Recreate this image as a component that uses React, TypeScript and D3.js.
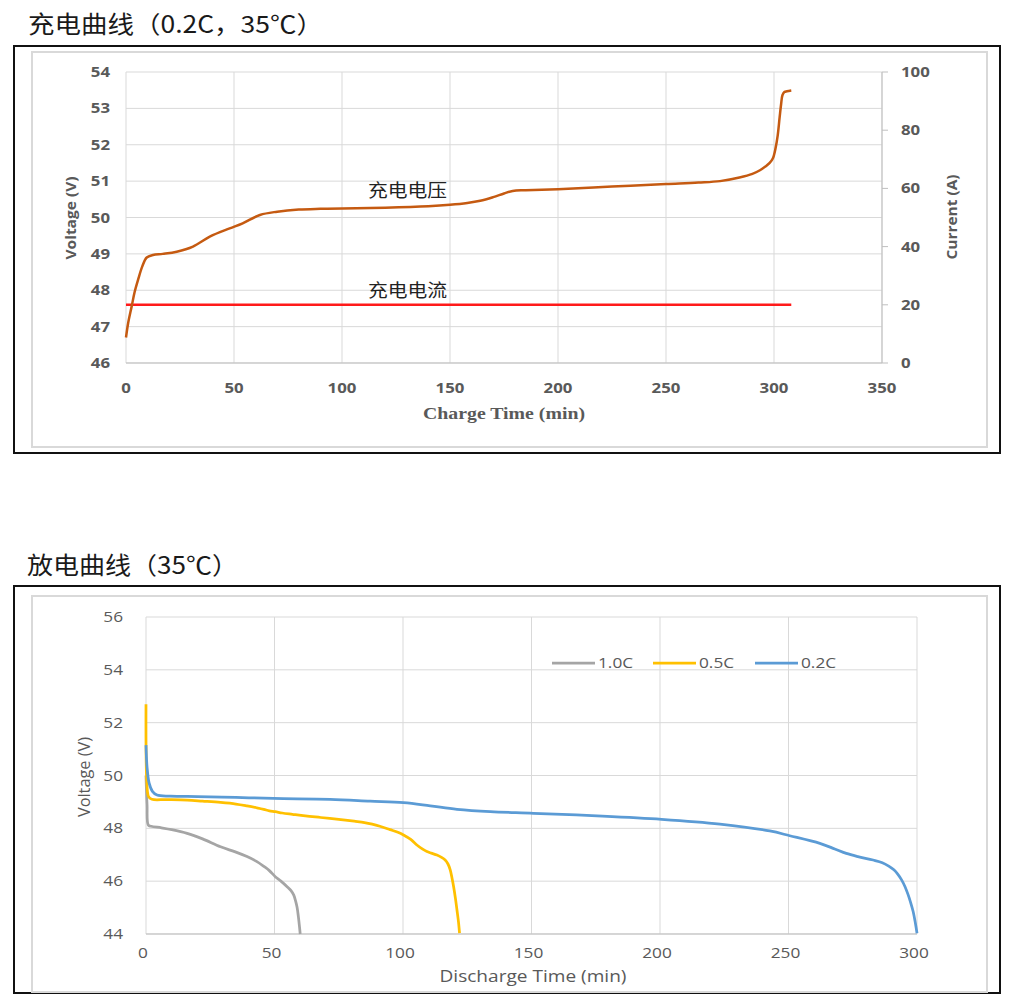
import React from 'react';
import * as d3 from 'd3';

// ---------- Charge chart data ----------
const chargeTime = [0, 1, 2.6, 4, 5.6, 7.5, 9.6, 12.5, 17, 23.5, 31, 39, 48, 54, 62, 70, 80, 90, 100, 120, 140, 150, 158, 164, 170, 175, 179, 185, 200, 225, 250, 265, 275, 284, 290, 293.5, 296, 298, 299.5, 300.7, 301.7, 302.6, 303.3, 303.9, 304.8, 306, 308];
const chargeVoltage = [46.7, 47.1, 47.55, 47.95, 48.29, 48.65, 48.9, 48.97, 49.0, 49.06, 49.2, 49.48, 49.7, 49.84, 50.07, 50.16, 50.22, 50.24, 50.25, 50.27, 50.31, 50.35, 50.4, 50.46, 50.56, 50.66, 50.73, 50.75, 50.78, 50.85, 50.92, 50.96, 51.0, 51.1, 51.2, 51.3, 51.4, 51.5, 51.63, 51.9, 52.25, 52.75, 53.12, 53.36, 53.45, 53.47, 53.49];
const currentTime = [0, 308];
const currentValue = [20, 20];
const chargeXTicks = [0, 50, 100, 150, 200, 250, 300, 350];
const chargeVTicks = [46, 47, 48, 49, 50, 51, 52, 53, 54];
const chargeATicks = [0, 20, 40, 60, 80, 100];

// ---------- Discharge chart data ----------
const t10 = [0, 0.4, 0.9, 2, 6, 10, 16, 22, 29, 35, 39.3, 43, 46, 48, 50.3, 52.5, 55, 56.5, 57.5, 58.2, 58.8, 59.3, 59.7, 60];
const v10 = [50.0, 48.9, 48.12, 48.08, 48.02, 47.95, 47.81, 47.6, 47.3, 47.1, 46.93, 46.75, 46.55, 46.4, 46.17, 46.0, 45.78, 45.63, 45.47, 45.25, 45.0, 44.65, 44.3, 44.0];
const t05 = [0, 0.3, 1, 2.3, 8, 16, 22, 29, 35, 39.3, 43, 45.8, 48, 50.3, 53, 57, 62, 68, 75, 81, 85, 88, 91, 95, 98, 100.2, 103, 105.4, 107.5, 109.3, 111, 113.2, 115, 116.4, 117.5, 118.4, 119.1, 119.7, 120.4, 121, 121.6, 122];
const v05 = [52.7, 49.8, 49.2, 49.1, 49.09, 49.07, 49.03, 48.98, 48.92, 48.85, 48.78, 48.72, 48.66, 48.63, 48.58, 48.53, 48.47, 48.41, 48.34, 48.27, 48.22, 48.16, 48.08, 47.95, 47.85, 47.75, 47.58, 47.37, 47.22, 47.12, 47.06, 46.99, 46.9, 46.8, 46.65, 46.42, 46.1, 45.79, 45.35, 44.91, 44.45, 44.03];
const t02 = [0, 0.4, 1.2, 2.5, 4.3, 9.5, 20, 35, 49.6, 71.6, 87.2, 100.2, 110.6, 121, 134, 150.8, 175.5, 200.6, 223.3, 242.7, 250.5, 262.2, 268, 272.5, 277, 282.9, 286.5, 289, 291, 292.5, 294, 295.3, 296.5, 297.5, 298.5, 299.3, 300];
const v02 = [51.15, 50.33, 49.72, 49.4, 49.26, 49.22, 49.2, 49.17, 49.13, 49.1, 49.03, 48.97, 48.85, 48.72, 48.63, 48.57, 48.47, 48.34, 48.16, 47.9, 47.72, 47.43, 47.22, 47.05, 46.93, 46.8, 46.7, 46.57, 46.43, 46.27, 46.05, 45.8, 45.5, 45.2, 44.85, 44.45, 44.03];
const seriesNames = ['1.0C', '0.5C', '0.2C'];
const seriesColors = ['#a5a5a5', '#ffc000', '#5b9bd5'];
const dischargeXTicks = [0, 50, 100, 150, 200, 250, 300];
const dischargeVTicks = [44, 46, 48, 50, 52, 54, 56];

const SANS = "'Open Sans', 'Noto Sans', sans-serif";
const CJK = "'Noto Sans CJK SC', sans-serif";

type TProps = { x: number; y: number; sx?: number; anchor?: string; children: React.ReactNode; [k: string]: any };
const SText = ({ x, y, sx = 1.15, anchor = 'middle', children, ...rest }: TProps) => (
  <text transform={`translate(${x},${y}) scale(${sx},1)`} textAnchor={anchor} {...rest}>{children}</text>
);

export default function App() {
  const curve = d3.curveCatmullRom.alpha(0.5);
  // Charge chart scales
  const xC = d3.scaleLinear().domain([0, 350]).range([126, 882]);
  const yV = d3.scaleLinear().domain([46, 54]).range([363, 72]);
  const yA = d3.scaleLinear().domain([0, 100]).range([363, 72]);
  const lineCV = d3.line<number>().x((_, i) => xC(chargeTime[i])).y(d => yV(d)).curve(curve);
  const lineCA = d3.line<number>().x((_, i) => xC(currentTime[i])).y(d => yA(d));

  // Discharge chart scales
  const xD = d3.scaleLinear().domain([0, 300]).range([146, 917]);
  const yD = d3.scaleLinear().domain([44, 56]).range([934, 617]);
  const times = [t10, t05, t02];
  const volts = [v10, v05, v02];
  const mkLine = (ts: number[]) => d3.line<number>().x((_, i) => xD(ts[i])).y(d => yD(d)).curve(curve);

  const grid = '#d9d9d9';
  const axisC = '#bfbfbf';
  const tickCol = '#595959';

  const legendX = [552, 653, 755];

  return (
    <div style={{ position: 'absolute', left: 0, top: 0 }}>
      <svg width={1009} height={1006} style={{ display: 'block', background: '#fff' }}>
        {/* ===== Charge chart ===== */}
        <text x={28} y={33} fontFamily={CJK} fontSize={24} fill="#1a1a1a" textLength={295} lengthAdjust="spacingAndGlyphs">充电曲线（0.2C，35℃）</text>
        <rect x={14} y={46} width={986} height={407} fill="#fff" stroke="#111" strokeWidth={2} />
        <rect x={32} y={52} width={955} height={395} fill="#fff" stroke={grid} strokeWidth={2} />
        {chargeVTicks.map(v => (
          <line key={'hv' + v} x1={xC(0)} x2={xC(350)} y1={yV(v)} y2={yV(v)} stroke={grid} strokeWidth={1} />
        ))}
        {chargeXTicks.map(t => (
          <line key={'vv' + t} x1={xC(t)} x2={xC(t)} y1={yV(54)} y2={yV(46)} stroke={grid} strokeWidth={1} />
        ))}
        <line x1={xC(0)} x2={xC(350)} y1={yV(46)} y2={yV(46)} stroke={axisC} strokeWidth={1} />
        <line x1={xC(350)} x2={xC(350)} y1={yV(54)} y2={yV(46)} stroke={axisC} strokeWidth={1} />
        {chargeATicks.map(a => (
          <line key={'ta' + a} x1={xC(350)} x2={xC(350) + 6} y1={yA(a)} y2={yA(a)} stroke={axisC} strokeWidth={1} />
        ))}
        {chargeVTicks.map(v => (
          <SText key={'lv' + v} x={110} y={yV(v) + 5} anchor="end" sx={1.2} fontFamily={SANS} fontWeight={700} fontSize={14} fill={tickCol}>{v}</SText>
        ))}
        {chargeATicks.map(a => (
          <SText key={'la' + a} x={901} y={yA(a) + 5} anchor="start" sx={1.2} fontFamily={SANS} fontWeight={700} fontSize={14} fill={tickCol}>{a}</SText>
        ))}
        {chargeXTicks.map(t => (
          <SText key={'lx' + t} x={xC(t)} y={393} sx={1.2} fontFamily={SANS} fontWeight={700} fontSize={14} fill={tickCol}>{t}</SText>
        ))}
        <text transform="translate(76,218) rotate(-90)" textAnchor="middle" fontFamily={SANS} fontWeight={700} fontSize={15} fill={tickCol} textLength={83} lengthAdjust="spacingAndGlyphs">Voltage (V)</text>
        <text transform="translate(957,217) rotate(-90)" textAnchor="middle" fontFamily={SANS} fontWeight={700} fontSize={15} fill={tickCol} textLength={85} lengthAdjust="spacingAndGlyphs">Current (A)</text>
        <text x={504} y={419} textAnchor="middle" fontFamily="'Liberation Serif', 'Times New Roman', serif" fontWeight={700} fontSize={17} fill={tickCol} textLength={162} lengthAdjust="spacingAndGlyphs">Charge Time (min)</text>
        <path d={lineCA(currentValue) || ''} fill="none" stroke="#ff1a1a" strokeWidth={2.5} />
        <path d={lineCV(chargeVoltage) || ''} fill="none" stroke="#c55a11" strokeWidth={2.5} strokeLinejoin="round" />
        <text x={368} y={197} fontFamily={CJK} fontSize={18} fill="#222" textLength={79} lengthAdjust="spacingAndGlyphs">充电电压</text>
        <text x={368} y={297} fontFamily={CJK} fontSize={18} fill="#222" textLength={79} lengthAdjust="spacingAndGlyphs">充电电流</text>

        {/* ===== Discharge chart ===== */}
        <text x={27} y={574} fontFamily={CJK} fontSize={24} fill="#1a1a1a" textLength={211} lengthAdjust="spacingAndGlyphs">放电曲线（35℃）</text>
        <rect x={14} y={586} width={986} height={407} fill="#fff" stroke="#111" strokeWidth={2} />
        <rect x={32} y={596} width={955} height={396} fill="#fff" stroke={grid} strokeWidth={2} />
        {dischargeVTicks.map(v => (
          <line key={'dh' + v} x1={xD(0)} x2={xD(300)} y1={yD(v)} y2={yD(v)} stroke={grid} strokeWidth={1} />
        ))}
        {dischargeXTicks.map(t => (
          <line key={'dv' + t} x1={xD(t)} x2={xD(t)} y1={yD(56)} y2={yD(44)} stroke={grid} strokeWidth={1} />
        ))}
        <line x1={xD(0)} x2={xD(300)} y1={yD(44)} y2={yD(44)} stroke={axisC} strokeWidth={1} />
        {dischargeVTicks.map(v => (
          <SText key={'dl' + v} x={123} y={yD(v) + 5} anchor="end" fontFamily={SANS} fontSize={15} fill={tickCol}>{v}</SText>
        ))}
        {dischargeXTicks.map(t => (
          <SText key={'dx' + t} x={xD(t) - 3} y={958} fontFamily={SANS} fontSize={15} fill={tickCol}>{t}</SText>
        ))}
        <text transform="translate(90,777) rotate(-90)" textAnchor="middle" fontFamily={SANS} fontSize={16} fill={tickCol} textLength={80} lengthAdjust="spacingAndGlyphs">Voltage (V)</text>
        <text x={533} y={982} textAnchor="middle" fontFamily={SANS} fontSize={16} fill={tickCol} textLength={187} lengthAdjust="spacingAndGlyphs">Discharge Time (min)</text>
        {volts.map((vs, i) => (
          <path key={'s' + i} d={mkLine(times[i])(vs) || ''} fill="none" stroke={seriesColors[i]} strokeWidth={2.75} strokeLinejoin="round" />
        ))}
        {seriesNames.map((n, i) => (
          <g key={'lg' + i}>
            <line x1={legendX[i]} x2={legendX[i] + 43} y1={663} y2={663} stroke={seriesColors[i]} strokeWidth={2.75} />
            <SText x={legendX[i] + 46} y={668} anchor="start" fontFamily={SANS} fontSize={15} fill={tickCol}>{n}</SText>
          </g>
        ))}
      </svg>
    </div>
  );
}
